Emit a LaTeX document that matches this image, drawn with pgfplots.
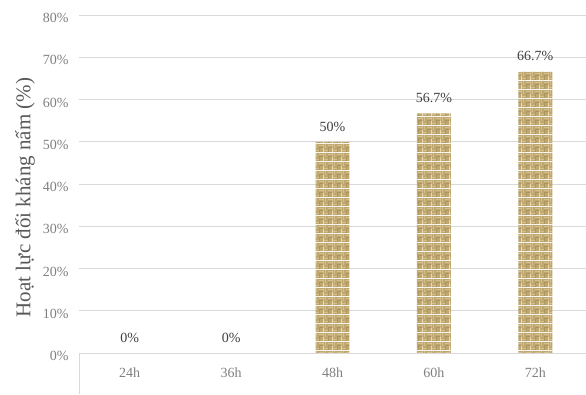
\documentclass[border=0pt]{standalone}
\usepackage{fontspec}
\setmainfont{Liberation Serif}
\usepackage{pgfplots}
\pgfplotsset{compat=1.18}
\usetikzlibrary{patterns}
\definecolor{burlapL}{HTML}{EBD9AA}
\definecolor{burlapD}{HTML}{A88D55}
\definecolor{gridc}{HTML}{D9D9D9}
\definecolor{tickc}{HTML}{808080}
\definecolor{labc}{HTML}{404040}
\definecolor{ylabc}{HTML}{595959}
\pgfdeclarepatterninherentlycolored{burlap}{\pgfpointorigin}{\pgfpoint{9pt}{9pt}}{\pgfpoint{9pt}{9pt}}{%
  \pgfsetfillcolor{burlapL}%
  \pgfpathrectangle{\pgfpointorigin}{\pgfpoint{9pt}{9pt}}\pgfusepath{fill}%
  \pgfsetfillcolor{burlapD}%
  \pgfpathrectangle{\pgfpoint{0pt}{0.4pt}}{\pgfpoint{4.5pt}{1.2pt}}%
  \pgfpathrectangle{\pgfpoint{0pt}{2.7pt}}{\pgfpoint{4.5pt}{1.2pt}}%
  \pgfpathrectangle{\pgfpoint{4.9pt}{0pt}}{\pgfpoint{1.2pt}{4.5pt}}%
  \pgfpathrectangle{\pgfpoint{7.2pt}{0pt}}{\pgfpoint{1.2pt}{4.5pt}}%
  \pgfpathrectangle{\pgfpoint{0.4pt}{4.5pt}}{\pgfpoint{1.2pt}{4.5pt}}%
  \pgfpathrectangle{\pgfpoint{2.7pt}{4.5pt}}{\pgfpoint{1.2pt}{4.5pt}}%
  \pgfpathrectangle{\pgfpoint{4.5pt}{4.9pt}}{\pgfpoint{4.5pt}{1.2pt}}%
  \pgfpathrectangle{\pgfpoint{4.5pt}{7.2pt}}{\pgfpoint{4.5pt}{1.2pt}}%
  \pgfusepath{fill}%
}
\pgfplotstableread{
x val
0 0
1 0
2 50
3 56.7
4 66.7
}\datatable
\begin{document}
\begin{tikzpicture}
\useasboundingbox (-79pt,-41pt) rectangle (507pt,353pt);
\begin{axis}[
  scale only axis,
  width=507pt, height=338pt,
  xmin=-0.5, xmax=4.5,
  ymin=0, ymax=80,
  ytick={0,10,...,80},
  yticklabel={\pgfmathprintnumber{\tick}\%},
  xtick={0,1,2,3,4},
  xticklabels={24h,36h,48h,60h,72h},
  /pgf/number format/assume math mode=true,
  ymajorgrids,
  grid style={gridc, line width=0.8pt},
  axis line style={draw=none},
  axis x line*=bottom,
  major tick length=0pt,
  tick style={draw=none},
  ticklabel style={font=\fontsize{14}{16}\selectfont, text=tickc},
  xticklabel style={yshift=-11pt},
  yticklabel style={xshift=-7pt, yshift=-3pt},
  ylabel={Hoạt lực đối kháng nấm (\%)},
  ylabel style={at={(axis description cs:-0.1065,0.46)}, anchor=center, rotate=0, font=\fontsize{21}{24}\selectfont, text=ylabc},
  clip=false,
  ybar,
  bar width=0.335,
  nodes near coords={\pgfmathprintnumber[precision=1]{\pgfplotspointmeta}\%},
  nodes near coords style={font=\fontsize{14}{16}\selectfont, text=labc, yshift=7pt},
]
\addplot[draw=none, pattern=burlap] table[x=x, y=val] {\datatable};
\draw[gridc, line width=0.8pt] (axis cs:-0.5,0) -- (axis cs:4.5,0);
\draw[gridc, line width=0.8pt] (axis cs:-0.5,0) -- ([yshift=-41pt]axis cs:-0.5,0);
\end{axis}
\end{tikzpicture}
\end{document}
